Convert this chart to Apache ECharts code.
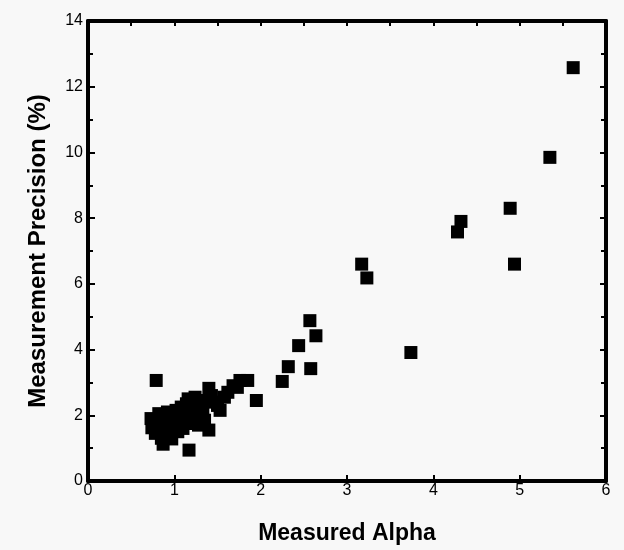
<!DOCTYPE html>
<html>
<head>
<meta charset="utf-8">
<script src="https://cdn.jsdelivr.net/npm/echarts@6/dist/echarts.min.js"></script>
<style>
html,body{margin:0;padding:0;background:#f8f8f8;}
#c{width:624px;height:550px;}
</style>
</head>
<body>
<div id="c"></div>
<script>
var xTitle = 'Measured Alpha';
var yTitle = 'Measurement Precision (%)';
var alpha = [
  0.73,0.74,0.78,0.80,0.82,0.85,0.87,0.88,0.90,0.92,0.95,0.97,0.98,1.00,1.02,1.04,1.06,1.08,1.10,1.12,
  1.14,1.16,1.17,1.18,1.20,1.22,1.24,1.26,1.28,1.30,1.33,1.35,1.37,1.40,1.40,1.43,1.46,1.50,1.53,1.58,
  1.62,1.68,1.76,1.73,1.95,1.85,0.79,
  2.25,2.32,2.58,2.44,2.57,2.64,3.17,3.23,3.74,4.28,4.32,4.89,4.94,5.35,5.62
];
var precision = [
  1.90,1.62,1.45,1.75,2.05,1.30,1.12,1.55,1.85,2.10,1.40,1.28,1.70,1.95,2.15,1.50,1.80,2.25,1.60,2.00,
  2.35,2.50,0.94,1.75,2.10,1.90,2.55,2.30,1.70,2.05,2.20,1.85,2.45,1.55,2.82,2.60,2.40,2.30,2.15,2.55,
  2.70,2.90,3.06,2.85,2.45,3.06,3.06,
  3.03,3.48,3.42,4.12,4.88,4.42,6.60,6.18,3.91,7.58,7.90,8.30,6.60,9.85,12.58
];
var pts = alpha.map(function(a,i){return [a, precision[i]];});
var chart = echarts.init(document.getElementById('c'));
var lineStyle = {color:'#000', width:4};
chart.setOption({
  backgroundColor:'#f8f8f8',
  animation:false,
  grid:{left:88, right:18, top:21, bottom:67},
  xAxis:[{
    type:'value', position:'bottom', min:0, max:6, interval:1,
    axisLine:{show:true, onZero:false, lineStyle:lineStyle},
    axisTick:{show:true, inside:true, length:6, lineStyle:{color:'#000', width:2}},
    axisLabel:{color:'#000', fontSize:16, fontFamily:'Liberation Sans', margin:2},
    splitLine:{show:false},
    name:xTitle, nameLocation:'middle', nameGap:41,
    nameTextStyle:{color:'#000', fontSize:23, fontWeight:'bold', fontFamily:'Liberation Sans'}
  },{
    type:'value', position:'top', min:0, max:6, interval:0.5,
    axisLine:{show:true, onZero:false, lineStyle:lineStyle},
    axisTick:{show:true, inside:true, length:5, lineStyle:{color:'#000', width:2}},
    axisLabel:{show:false},
    splitLine:{show:false}
  }],
  yAxis:[{
    type:'value', position:'left', min:0, max:14, interval:2,
    axisLine:{show:true, onZero:false, lineStyle:lineStyle},
    axisTick:{show:true, inside:true, length:7, lineStyle:{color:'#000', width:2}},
    minorTick:{show:true, splitNumber:2, length:5, lineStyle:{color:'#000', width:2}},
    axisLabel:{color:'#000', fontSize:16, fontFamily:'Liberation Sans', margin:5},
    splitLine:{show:false},
    name:yTitle, nameLocation:'middle', nameGap:38,
    nameTextStyle:{color:'#000', fontSize:24, fontWeight:'bold', fontFamily:'Liberation Sans'}
  },{
    type:'value', position:'right', min:0, max:14, interval:2,
    axisLine:{show:true, onZero:false, lineStyle:lineStyle},
    axisTick:{show:true, inside:true, length:6, lineStyle:{color:'#000', width:2}},
    minorTick:{show:true, splitNumber:2, length:5, lineStyle:{color:'#000', width:2}},
    axisLabel:{show:false},
    splitLine:{show:false}
  }],
  series:[{
    type:'scatter', xAxisIndex:0, yAxisIndex:0,
    symbol:'rect', symbolSize:13,
    itemStyle:{color:'#000', opacity:1},
    data:pts
  }]
});
</script>
</body>
</html>
